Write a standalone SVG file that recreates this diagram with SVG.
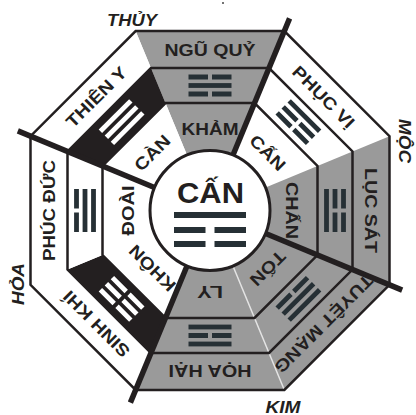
<svg xmlns="http://www.w3.org/2000/svg" xmlns:xlink="http://www.w3.org/1999/xlink" width="416" height="415" viewBox="0 0 416 415">
<style>
.gray{fill:#9a9a9a}
.white{fill:#ffffff}
.black{fill:#231f20}
.bar{fill:#263035}
.wbar{fill:#ffffff}
.oct{fill:none;stroke:#231f20;stroke-width:2.5;stroke-linejoin:miter}
.thick{stroke:#231f20;stroke-width:5.5;fill:none}
.light{stroke:#e4e4e4;stroke-width:1.5;fill:none}
.lbl{font-family:"Liberation Sans",Arial,sans-serif;font-weight:bold;font-size:17px;fill:#231f20;text-anchor:middle}
.el{font-family:"Liberation Sans",Arial,sans-serif;font-weight:bold;font-style:italic;font-size:16.5px;fill:#231f20;text-anchor:middle}
.big{font-family:"Liberation Sans",Arial,sans-serif;font-weight:bold;font-size:29px;fill:#231f20;text-anchor:middle}
</style>
<defs>
<path id="bandO" d="M135.65,31 L284.35,31 L269.03,68 L150.97,68 Z"/>
<path id="bandM" d="M150.97,68 L269.03,68 L254.53,103 L165.47,103 Z"/>
<path id="bandI" d="M165.47,103 L254.53,103 L210,210.5 Z"/>
<rect id="yang" x="188.5" y="0" width="43" height="4.8"/>
<path id="yin" d="M188.5,0h19.5v4.8h-19.5z M212,0h19.5v4.8h-19.5z"/>
</defs>
<rect width="416" height="415" fill="#ffffff"/>

<g id="s-ngu-quy">
<use xlink:href="#bandO" class="gray"/><use xlink:href="#bandM" class="gray"/><use xlink:href="#bandI" class="gray"/>
<use xlink:href="#yin" y="74.6" class="bar"/><use xlink:href="#yang" y="83.1" class="bar"/><use xlink:href="#yin" y="91.6" class="bar"/>
<text class="lbl" x="210" y="55.8" textLength="91" lengthAdjust="spacingAndGlyphs">NGŨ QUỶ</text>
<text class="lbl" x="210" y="134.8" textLength="57" lengthAdjust="spacingAndGlyphs">KHẢM</text>
</g>
<g id="s-phuc-vi" transform="rotate(45 210 210.5)">
<use xlink:href="#bandO" class="white"/><use xlink:href="#bandM" class="white"/><use xlink:href="#bandI" class="white"/>
<use xlink:href="#yang" y="74.6" class="bar"/><use xlink:href="#yin" y="83.1" class="bar"/><use xlink:href="#yin" y="91.6" class="bar"/>
<text class="lbl" x="210" y="55.8" textLength="80" lengthAdjust="spacingAndGlyphs">PHỤC VỊ</text>
<text class="lbl" x="210" y="134.8" textLength="43" lengthAdjust="spacingAndGlyphs">CẤN</text>
</g>
<g id="s-luc-sat" transform="rotate(90 210 210.5)">
<use xlink:href="#bandO" class="gray"/><use xlink:href="#bandM" class="gray"/><use xlink:href="#bandI" class="gray"/>
<use xlink:href="#yin" y="74.6" class="bar"/><use xlink:href="#yin" y="83.1" class="bar"/><use xlink:href="#yang" y="91.6" class="bar"/>
<text class="lbl" x="210" y="55.8" textLength="85" lengthAdjust="spacingAndGlyphs">LỤC SÁT</text>
<text class="lbl" x="210" y="134.8" textLength="57" lengthAdjust="spacingAndGlyphs">CHẤN</text>
</g>
<g id="s-tuyet-mang" transform="rotate(135 210 210.5)">
<use xlink:href="#bandO" class="gray"/><use xlink:href="#bandM" class="gray"/><use xlink:href="#bandI" class="gray"/>
<use xlink:href="#yang" y="74.6" class="bar"/><use xlink:href="#yang" y="83.1" class="bar"/><use xlink:href="#yin" y="91.6" class="bar"/>
<text class="lbl" x="210" y="55.8" textLength="131" lengthAdjust="spacingAndGlyphs">TUYỆT MẠNG</text>
<text class="lbl" x="210" y="134.8" textLength="42" lengthAdjust="spacingAndGlyphs">TỐN</text>
</g>
<g id="s-hoa-hai" transform="rotate(180 210 210.5)">
<use xlink:href="#bandO" class="gray"/><use xlink:href="#bandM" class="gray"/><use xlink:href="#bandI" class="gray"/>
<use xlink:href="#yang" y="74.6" class="bar"/><use xlink:href="#yin" y="83.1" class="bar"/><use xlink:href="#yang" y="91.6" class="bar"/>
<text class="lbl" x="210" y="55.8" textLength="83" lengthAdjust="spacingAndGlyphs">HỌA HẠI</text>
<text class="lbl" x="210" y="134.8" textLength="26" lengthAdjust="spacingAndGlyphs">LY</text>
</g>
<g id="s-sinh-khi" transform="rotate(225 210 210.5)">
<use xlink:href="#bandO" class="white"/><use xlink:href="#bandM" class="black"/><use xlink:href="#bandI" class="white"/>
<use xlink:href="#yin" y="74.6" class="wbar"/><use xlink:href="#yin" y="83.1" class="wbar"/><use xlink:href="#yin" y="91.6" class="wbar"/>
<text class="lbl" x="210" y="55.8" textLength="86" lengthAdjust="spacingAndGlyphs">SINH KHÍ</text>
<text class="lbl" x="210" y="134.8" textLength="58" lengthAdjust="spacingAndGlyphs">KHÔN</text>
</g>
<g id="s-phuc-duc" transform="rotate(270 210 210.5)">
<use xlink:href="#bandO" class="white"/><use xlink:href="#bandM" class="white"/><use xlink:href="#bandI" class="white"/>
<use xlink:href="#yin" y="74.6" class="bar"/><use xlink:href="#yang" y="83.1" class="bar"/><use xlink:href="#yang" y="91.6" class="bar"/>
<text class="lbl" x="210" y="55.8" textLength="101" lengthAdjust="spacingAndGlyphs">PHÚC ĐỨC</text>
<text class="lbl" x="210" y="134.8" textLength="50" lengthAdjust="spacingAndGlyphs">ĐOÀI</text>
</g>
<g id="s-thien-y" transform="rotate(315 210 210.5)">
<use xlink:href="#bandO" class="white"/><use xlink:href="#bandM" class="black"/><use xlink:href="#bandI" class="white"/>
<use xlink:href="#yang" y="74.6" class="wbar"/><use xlink:href="#yang" y="83.1" class="wbar"/><use xlink:href="#yang" y="91.6" class="wbar"/>
<text class="lbl" x="210" y="55.8" textLength="78" lengthAdjust="spacingAndGlyphs">THIÊN Y</text>
<text class="lbl" x="210" y="134.8" textLength="43" lengthAdjust="spacingAndGlyphs">CÀN</text>
</g>

<g id="rings">
<line class="light" x1="232.96" y1="265.93" x2="284.35" y2="390"/>
<polygon class="oct" points="135.65,31 284.35,31 389.5,136.15 389.5,284.85 284.35,390 135.65,390 30.5,284.85 30.5,136.15"/>
<polygon class="oct" points="150.97,68 269.03,68 352.5,151.47 352.5,269.53 269.03,353 150.97,353 67.5,269.53 67.5,151.47"/>
<polygon class="oct" points="165.47,103 254.53,103 317.5,165.97 317.5,255.03 254.53,318 165.47,318 102.5,255.03 102.5,165.97"/>
</g>

<g id="connectors">
<line class="thick" x1="231.05" y1="159.69" x2="289.6" y2="18.33"/>
<line class="thick" x1="260.81" y1="231.55" x2="402.17" y2="290.1"/>
<line class="thick" x1="188.95" y1="261.31" x2="130.4" y2="402.67"/>
<line class="thick" x1="159.19" y1="189.45" x2="17.83" y2="130.9"/>
</g>

<g id="center">
<circle cx="210" cy="210.5" r="60" fill="#ffffff" stroke="#231f20" stroke-width="3"/>
<text class="big" x="210.5" y="203" textLength="67" lengthAdjust="spacingAndGlyphs">CẤN</text>
<rect class="bar" x="174" y="212" width="72" height="6"/>
<rect class="bar" x="174" y="227" width="31.5" height="6"/>
<rect class="bar" x="214.5" y="227" width="31.5" height="6"/>
<rect class="bar" x="174" y="241" width="31.5" height="6"/>
<rect class="bar" x="214.5" y="241" width="31.5" height="6"/>
</g>

<g id="elements">
<text class="el" x="132" y="25.5" textLength="50" lengthAdjust="spacingAndGlyphs">THỦY</text>
<text class="el" transform="translate(398.5,141) rotate(90)" x="0" y="0" textLength="44" lengthAdjust="spacingAndGlyphs">MỘC</text>
<text class="el" x="283" y="412.5" textLength="35" lengthAdjust="spacingAndGlyphs">KIM</text>
<text class="el" transform="translate(23.5,284) rotate(-90)" x="0" y="0" textLength="42" lengthAdjust="spacingAndGlyphs">HỎA</text>
<circle cx="223" cy="3" r="1" fill="#444444"/>
</g>
</svg>
